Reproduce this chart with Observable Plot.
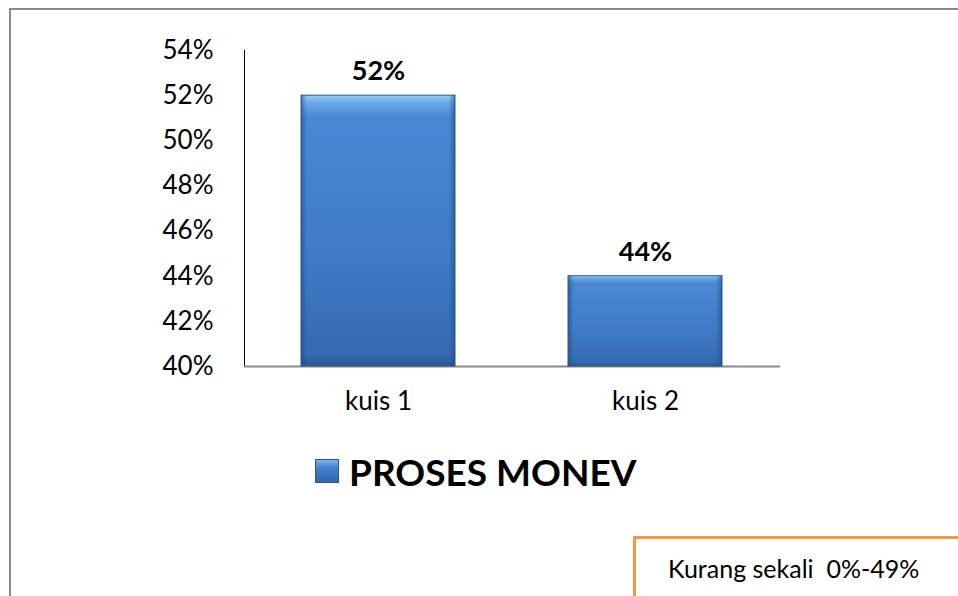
<!DOCTYPE html>
<html>
<head>
<meta charset="utf-8">
<script src="https://cdn.jsdelivr.net/npm/d3@7"></script>
<script src="https://cdn.jsdelivr.net/npm/@observablehq/plot@0.6"></script>
<style>
  html, body { margin: 0; padding: 0; background: #fff; overflow: hidden; }
  #wrap { position: relative; width: 958px; height: 596px; font-family: Lato, "Open Sans", sans-serif; }
  #border { position: absolute; left: 9px; top: 8px; width: 960px; height: 600px;
            border-top: 2px solid #8a8a8a; border-left: 2px solid #8a8a8a; box-sizing: border-box; }
  #legend { position: absolute; left: 315px; top: 451px; height: 40px; display: flex; align-items: center;
            font-weight: bold; font-size: 37px; color: #000; white-space: nowrap; }
  #legend .sw { width: 24px; height: 24px; margin-right: 10px; box-sizing: border-box;
                background: linear-gradient(#7fb4ec, #4683cf 35%, #2f66ad); border: 1px solid #2b5794; }
  #note { position: absolute; left: 633px; top: 536px; width: 400px; height: 80px; box-sizing: border-box;
          border-top: 3px solid #f79646; border-left: 3px solid #f79646; }
  #note span { position: absolute; left: 32px; top: 14px; font-size: 25px; color: #000; white-space: pre; }
  #chart { position: absolute; left: 0; top: 0; }
</style>
</head>
<body>
<div id="wrap">
  <div id="border"></div>
  <div id="chart"></div>
  <div id="legend"><div class="sw"></div><span>PROSES MONEV</span></div>
  <div id="note"><span>Kurang sekali  0%-49%</span></div>
</div>
<script>
const categories = ["kuis 1", "kuis 2"];
const values = [0.52, 0.44];
const valueLabels = ["52%", "44%"];
const yTicks = [0.40, 0.42, 0.44, 0.46, 0.48, 0.50, 0.52, 0.54];
const baseline = 0.40;

const data = categories.map((c, i) => ({cat: c, v: values[i], label: valueLabels[i]}));

const chart = Plot.plot({
  width: 958,
  height: 596,
  marginLeft: 244,
  marginRight: 178,
  marginTop: 50,
  marginBottom: 230,
  style: {fontFamily: "Lato, 'Open Sans', sans-serif", fontSize: "26px", background: "transparent", color: "#000", overflow: "visible"},
  x: {domain: categories, paddingInner: 0.423, paddingOuter: 0.215, label: null, tickSize: 0, tickPadding: 25},
  y: {domain: [0.40, 0.54], ticks: yTicks, tickFormat: d => Math.round(d * 100) + "%", label: null, tickSize: 0, tickPadding: 31, line: true},
  marks: [
    Plot.ruleY([baseline], {stroke: "#8a8a8a", strokeWidth: 2}),
    Plot.barY(data, {x: "cat", y1: () => baseline, y2: "v", fill: "url(#barGrad)", stroke: "#2b5794", strokeWidth: 1}),
    Plot.barY(data, {x: "cat", y1: () => baseline, y2: "v", fill: "url(#barSide)", stroke: "none"}),
    Plot.text(data, {x: "cat", y: "v", text: "label", dy: -24, fontWeight: "bold", fontSize: 27, fill: "#000"})
  ]
});

const svg = d3.select(chart);
const defs = svg.insert("defs", ":first-child");
const g1 = defs.append("linearGradient").attr("id", "barGrad").attr("x1", 0).attr("y1", 0).attr("x2", 0).attr("y2", 1);
[["0%", "#9ccaf3"], ["3%", "#6aa6e6"], ["8%", "#4a88d5"], ["60%", "#3f7bc6"], ["96%", "#3569b0"], ["100%", "#2a568f"]]
  .forEach(([o, c]) => g1.append("stop").attr("offset", o).attr("stop-color", c));
const g2 = defs.append("linearGradient").attr("id", "barSide").attr("x1", 0).attr("y1", 0).attr("x2", 1).attr("y2", 0);
[["0%", "#1f4a85", 0.55], ["4%", "#1f4a85", 0.0], ["96%", "#1f4a85", 0.0], ["100%", "#1f4a85", 0.6]]
  .forEach(([o, c, a]) => g2.append("stop").attr("offset", o).attr("stop-color", c).attr("stop-opacity", a));
svg.selectAll("[aria-label='y-axis'] path, [aria-label='y-axis line'] path, [aria-label='y-axis'] line").attr("stroke", "#8a8a8a").attr("stroke-width", 2);

document.getElementById("chart").appendChild(chart);
</script>
</body>
</html>
